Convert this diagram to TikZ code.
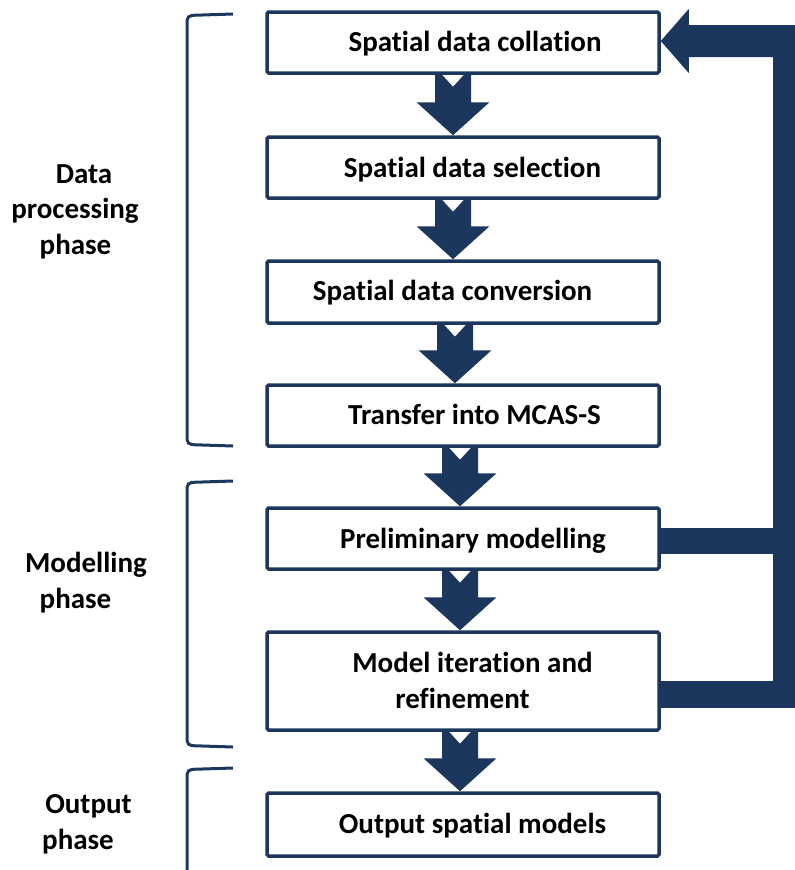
\documentclass[tikz,border=0pt]{standalone}
\usepackage{fontspec}
\setmainfont{Carlito}[Ligatures=NoCommon]
\usetikzlibrary{calc}
\definecolor{navy}{RGB}{28,55,94}
\newcommand{\fatarrow}[3]{%
  \fill[navy] let \p1=(#1.south), \p2=(#2.north) in
    (#3pt-18pt,\y1) -- (#3pt-11pt,\y1) -- (#3pt,\y1-12pt) -- (#3pt+11pt,\y1)
    -- (#3pt+18pt,\y1) -- (#3pt+18pt,\y2+33pt) -- (#3pt+36.5pt,\y2+33pt)
    -- (#3pt,\y2) -- (#3pt-36.5pt,\y2+33pt) -- (#3pt-18pt,\y2+33pt) -- cycle;}
\begin{document}
\begin{tikzpicture}[x=1pt,y=-1pt,
  box/.style={draw=navy, line width=3.5pt, minimum width=392pt, inner sep=0pt, fill=white, rounded corners=1.5pt},
  txt/.style={font=\fontsize{29}{35}\selectfont\bfseries, anchor=base, inner sep=0pt, text=black},
  brk/.style={draw=navy, line width=3pt, rounded corners=5pt}]
\useasboundingbox (0,0) rectangle (795,870);

% brackets
\draw[brk] (233,14) -- (187,15.5) -- (187,444.5) -- (233,446);
\draw[brk] (233,481) -- (187,482.5) -- (187,745.5) -- (233,747);
\draw[brk] (233,768) -- (187,769.5) -- (187,872);

% phase labels
\node[txt] (d1) at (84,183) {Data};
\node[txt] (d2) at (75,218) {processing};
\node[txt] (d3) at (75.5,254) {phase};
\node[txt] (m1) at (86,572) {Modelling};
\node[txt] (m2) at (75.5,608) {phase};
\node[txt] (o1) at (88.5,813) {Output};
\node[txt] (o2) at (78,849) {phase};

% boxes
\node[box, minimum height=61pt] (b1) at (463,42.5) {};
\node[box, minimum height=61pt] (b2) at (463,167.5) {};
\node[box, minimum height=62pt] (b3) at (463,292) {};
\node[box, minimum height=61pt] (b4) at (463,415.5) {};
\node[box, minimum height=61pt] (b5) at (463,538.5) {};
\node[box, minimum height=98pt] (b6) at (463,681) {};
\node[box, minimum height=63pt] (b7) at (463,824.5) {};

% box texts
\node[txt] (t1) at (475,51) {Spatial data collation};
\node[txt] (t2) at (472.5,177) {Spatial data selection};
\node[txt] (t3) at (452.5,300) {Spatial data conversion};
\node[txt] (t4) at (474.5,424) {Transfer into MCAS-S};
\node[txt] (t5) at (473,548) {Preliminary modelling};
\node[txt] (t6a) at (472.5,672) {Model iteration and};
\node[txt] (t6b) at (462.5,708) {refinement};
\node[txt] (t7) at (472.5,833) {Output spatial models};

% downward block arrows
\fatarrow{b1}{b2}{453}
\fatarrow{b2}{b3}{453}
\fatarrow{b3}{b4}{455}
\fatarrow{b4}{b5}{460}
\fatarrow{b5}{b6}{460}
\fatarrow{b6}{b7}{460}

% feedback loop
\coordinate (v5) at (773,528);
\coordinate (w5) at (773,554);
\coordinate (v6) at (773,681);
\coordinate (w6) at (773,708);
\path (b5.east) coordinate (e5);
\path (b6.east) coordinate (e6);
\fill[navy] (e5 |- v5) rectangle (w5);
\fill[navy] (e6 |- v6) rectangle (w6);
\fill[navy] (773,25) rectangle (795,708);
\fill[navy] let \p1=([yshift=1.5pt]b1.east) in
  (\p1) -- (\x1+28pt,\y1+32pt) -- (\x1+28pt,\y1+16pt) -- (795pt,\y1+16pt)
  -- (795pt,\y1-16pt) -- (\x1+28pt,\y1-16pt) -- (\x1+28pt,\y1-32pt) -- cycle;
\end{tikzpicture}
\end{document}
